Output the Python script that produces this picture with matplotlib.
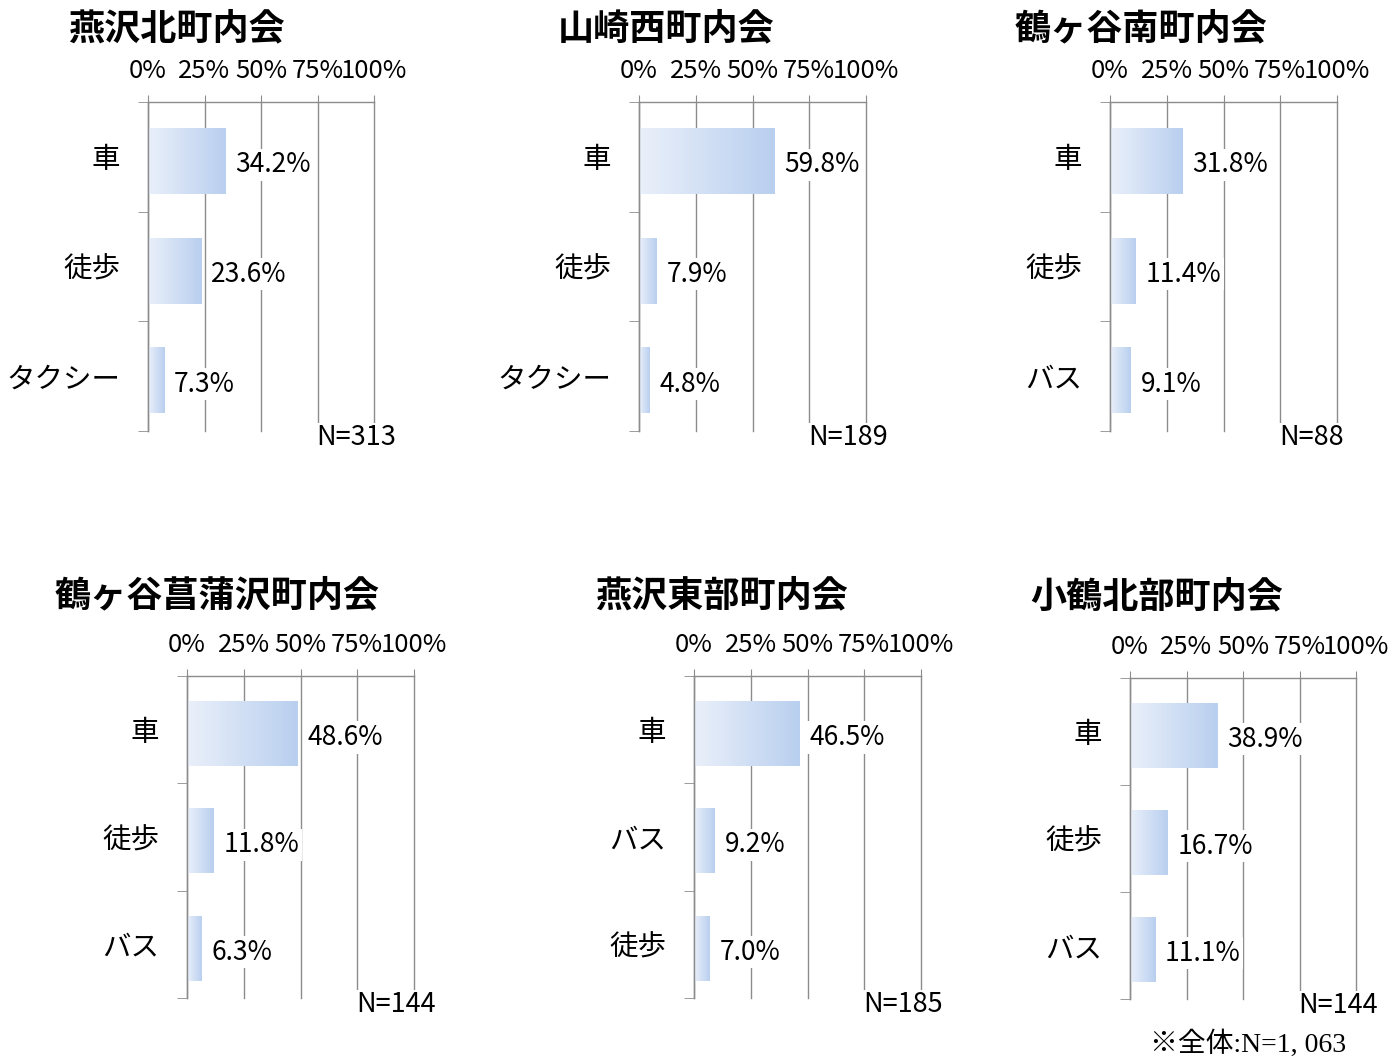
import numpy as np
import matplotlib
matplotlib.use("Agg")
import matplotlib.pyplot as plt
from matplotlib.colors import LinearSegmentedColormap

plt.rcParams['font.family'] = ['Noto Sans CJK JP', 'DejaVu Sans']

# data, one panel per 町内会
titles = ["燕沢北町内会", "山崎西町内会", "鶴ヶ谷南町内会",
          "鶴ヶ谷菖蒲沢町内会", "燕沢東部町内会", "小鶴北部町内会"]
categories = [
    ["車", "徒歩", "タクシー"],
    ["車", "徒歩", "タクシー"],
    ["車", "徒歩", "バス"],
    ["車", "徒歩", "バス"],
    ["車", "バス", "徒歩"],
    ["車", "徒歩", "バス"],
]
values = [
    [34.2, 23.6, 7.3],
    [59.8, 7.9, 4.8],
    [31.8, 11.4, 9.1],
    [48.6, 11.8, 6.3],
    [46.5, 9.2, 7.0],
    [38.9, 16.7, 11.1],
]
n_counts = [313, 189, 88, 144, 185, 144]
tick_vals = [0, 25, 50, 75, 100]
tick_labels = ["0%", "25%", "50%", "75%", "100%"]
footnote = "※全体:N=1, 063"

W, H = 1392, 1061
# axes boxes in pixels: left, top, right, bottom
boxes = [(148, 102, 374, 431), (639, 102, 866, 431), (1110, 102, 1337, 431),
         (187, 676, 414, 998), (694, 676, 921, 998), (1130, 678, 1356, 999)]
title_pos = [(68, 29), (558, 29), (1015, 29), (55, 596), (595, 596), (1030, 597)]

grid_c = "#8c8c8c"
cmap = LinearSegmentedColormap.from_list("bar", ["#eaf0fa", "#b9cfef"])
grad = np.linspace(0, 1, 256).reshape(1, -1)

fig = plt.figure(figsize=(W / 100, H / 100), dpi=100)

for i in range(6):
    l, t, r, b = boxes[i]
    ax = fig.add_axes([l / W, 1 - b / H, (r - l) / W, (b - t) / H])
    ys = np.arange(len(values[i]))
    h = 0.6
    off = 0.04  # bars sit a little below the category centre
    for y, v in zip(ys, values[i]):
        yc = y + off
        ax.imshow(grad, cmap=cmap, extent=(0, v, yc + h / 2, yc - h / 2),
                  aspect='auto', zorder=2, interpolation='bicubic')
        ax.annotate(f"{v:.1f}%", (v, yc), xytext=(7, -2.5), textcoords='offset points',
                    ha='left', va='center', fontsize=19, zorder=4,
                    bbox=dict(boxstyle='square,pad=0.1', fc='white', ec='none'))
    ax.set_xlim(0, 100)
    ax.set_ylim(len(values[i]) - 0.5, -0.5)

    ax.xaxis.tick_top()
    ax.set_xticks(tick_vals)
    ax.set_xticklabels(tick_labels, fontsize=18.5)
    ax.tick_params(axis='x', length=5, color=grid_c, pad=8)
    ax.grid(axis='x', color=grid_c, linewidth=1.0, zorder=1)
    for gl in ax.get_xgridlines():
        gl.set_clip_on(False)
    ax.set_axisbelow(True)

    ax.set_yticks(ys)
    ax.set_yticklabels(categories[i], fontsize=20.5)
    ax.tick_params(axis='y', which='major', length=0, pad=20)
    ax.set_yticks(np.arange(len(values[i]) + 1) - 0.5, minor=True)
    ax.tick_params(axis='y', which='minor', length=7, color=grid_c)

    for s in ['right', 'bottom']:
        ax.spines[s].set_visible(False)
    for s in ['top', 'left']:
        ax.spines[s].set_color(grid_c)
        ax.spines[s].set_linewidth(1.0)

    ax.text(1 - 58 / (r - l), -0.02, f"N={n_counts[i]}", transform=ax.transAxes,
            ha='left', va='center', fontsize=19.5, zorder=5,
            bbox=dict(boxstyle='square,pad=0.05', fc='white', ec='none'))

    tx, ty = title_pos[i]
    fig.text(tx / W, 1 - ty / H, titles[i], ha='left', va='center',
             fontsize=26, fontweight='bold')

fig.text(1346 / W, 1 - 1044 / H, footnote, ha='right', va='center', fontsize=20,
         family=['Liberation Serif', 'Noto Sans CJK JP'])

fig.savefig("out.png", dpi=100)
